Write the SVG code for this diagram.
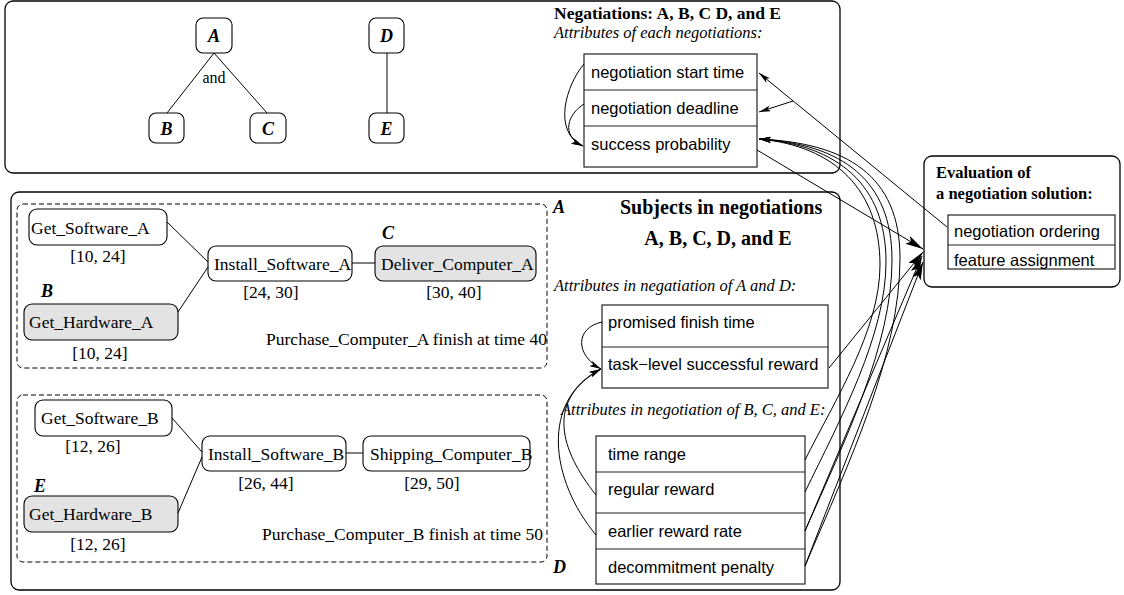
<svg xmlns="http://www.w3.org/2000/svg" width="1124" height="595" viewBox="0 0 1124 595">
  <style>
    .panel { fill: none; stroke: #000; stroke-width: 1.3; }
    .dash { fill: none; stroke: #000; stroke-width: 1; stroke-dasharray: 5 3; }
    .node { fill: #fff; stroke: #000; stroke-width: 1.1; }
    .gray { fill: #e3e3e3; stroke: #000; stroke-width: 1.1; }
    .attr { fill: #fff; stroke: #222; stroke-width: 1.2; }
    .div { stroke: #222; stroke-width: 1.2; }
    .edge { fill: none; stroke: #000; stroke-width: 1; }
    .serif { font-family: "Liberation Serif", "Times New Roman", serif; fill: #000; }
    .sans { font-family: "Liberation Sans", Arial, sans-serif; font-size: 16.5px; fill: #000; }
    .task { font-size: 17.5px; }
    .bi { font-weight: bold; font-style: italic; font-size: 18px; }
    .ital { font-style: italic; font-size: 16.5px; }
    .title { font-weight: bold; }
  </style>
  <defs>
    <marker id="arrS" viewBox="0 0 12 6" refX="12" refY="3" markerWidth="12" markerHeight="6" markerUnits="userSpaceOnUse" orient="auto">
      <path d="M0,0 L12,3 L0,6 L3,3 z" fill="#000"/>
    </marker>
    <marker id="arrL" viewBox="0 0 18 9" refX="18" refY="4.5" markerWidth="18" markerHeight="9" markerUnits="userSpaceOnUse" orient="auto">
      <path d="M0,0 L18,4.5 L0,9 L4,4.5 z" fill="#000"/>
    </marker>
  </defs>

  <!-- panels -->
  <rect class="panel" x="5" y="1" width="835" height="172" rx="8"/>
  <rect class="panel" x="11" y="192" width="829" height="398" rx="8"/>
  <rect class="dash" x="17" y="204" width="530" height="164" rx="6"/>
  <rect class="dash" x="17" y="395" width="530" height="167" rx="6"/>

  <!-- negotiation tree -->
  <g id="neg-A"><rect class="node" x="196" y="18" width="36" height="35" rx="7"/><text class="serif bi" x="214" y="42" text-anchor="middle" font-size="17">A</text></g>
  <g id="neg-B"><rect class="node" x="149" y="113" width="35" height="30" rx="7"/><text class="serif bi" x="166.5" y="135" text-anchor="middle">B</text></g>
  <g id="neg-C"><rect class="node" x="250" y="113" width="36" height="30" rx="7"/><text class="serif bi" x="268" y="135" text-anchor="middle">C</text></g>
  <g id="neg-D"><rect class="node" x="369" y="18" width="35" height="35" rx="7"/><text class="serif bi" x="386.5" y="42" text-anchor="middle">D</text></g>
  <g id="neg-E"><rect class="node" x="369" y="113" width="35" height="30" rx="7"/><text class="serif bi" x="386.5" y="135" text-anchor="middle">E</text></g>
  <text class="serif" x="214" y="83" text-anchor="middle" font-size="16">and</text>

  <text class="serif title" x="554" y="19" font-size="17.5">Negatiations: A, B, C D, and E</text>
  <text class="serif ital" x="554" y="38">Attributes of each negotiations:</text>

  <g id="attr-each">
    <rect class="attr" x="584" y="54" width="173" height="113"/>
    <line class="div" x1="584" y1="90" x2="757" y2="90"/>
    <line class="div" x1="584" y1="126" x2="757" y2="126"/>
    <text class="sans" x="591" y="78">negotiation start time</text>
    <text class="sans" x="591" y="114">negotiation deadline</text>
    <text class="sans" x="591" y="150">success probability</text>
  </g>

  <!-- evaluation -->
  <g id="evaluation">
    <rect class="panel" x="924" y="156" width="196" height="131" rx="8"/>
    <text class="serif title" x="936" y="178" font-size="16.5">Evaluation of</text>
    <text class="serif title" x="936" y="199" font-size="16.5">a negotiation solution:</text>
    <rect class="attr" x="948" y="215" width="167" height="54"/>
    <line class="div" x1="948" y1="245" x2="1115" y2="245"/>
    <text class="sans" x="954" y="237">negotiation ordering</text>
    <text class="sans" x="954" y="266">feature assignment</text>
  </g>

  <!-- Purchase_Computer_A -->
  <g id="task-get-software-a"><rect class="node" x="29" y="209" width="138" height="36" rx="8"/><text class="serif task" x="31" y="234">Get_Software_A</text><text class="serif task" x="98" y="262" text-anchor="middle">[10, 24]</text></g>
  <g id="task-install-software-a"><rect class="node" x="208" y="246" width="144" height="35" rx="8"/><text class="serif task" x="214" y="270">Install_Software_A</text><text class="serif task" x="271" y="298" text-anchor="middle">[24, 30]</text></g>
  <g id="task-deliver-computer-a"><rect class="gray" x="375" y="246" width="161" height="35" rx="8"/><text class="serif task" x="381" y="270">Deliver_Computer_A</text><text class="serif task" x="454" y="298" text-anchor="middle">[30, 40]</text><text class="serif bi" x="382" y="239">C</text></g>
  <g id="task-get-hardware-a"><rect class="gray" x="24" y="304" width="154" height="36" rx="8"/><text class="serif task" x="29" y="328">Get_Hardware_A</text><text class="serif task" x="100" y="359" text-anchor="middle">[10, 24]</text><text class="serif bi" x="41" y="297">B</text></g>
  <text class="serif task" x="547" y="345" text-anchor="end">Purchase_Computer_A finish at time 40</text>
  <text class="serif bi" x="553" y="213">A</text>

  <!-- Purchase_Computer_B -->
  <g id="task-get-software-b"><rect class="node" x="35" y="400" width="137" height="36" rx="8"/><text class="serif task" x="41" y="424">Get_Software_B</text><text class="serif task" x="93" y="452" text-anchor="middle">[12, 26]</text></g>
  <g id="task-install-software-b"><rect class="node" x="202" y="436" width="144" height="35" rx="8"/><text class="serif task" x="208" y="460">Install_Software_B</text><text class="serif task" x="266" y="489" text-anchor="middle">[26, 44]</text></g>
  <g id="task-shipping-computer-b"><rect class="node" x="363" y="436" width="167" height="35" rx="8"/><text class="serif task" x="370" y="460">Shipping_Computer_B</text><text class="serif task" x="432" y="489" text-anchor="middle">[29, 50]</text></g>
  <g id="task-get-hardware-b"><rect class="gray" x="24" y="496" width="154" height="36" rx="8"/><text class="serif task" x="29" y="520">Get_Hardware_B</text><text class="serif task" x="98" y="550" text-anchor="middle">[12, 26]</text><text class="serif bi" x="34" y="492">E</text></g>
  <text class="serif task" x="543" y="540" text-anchor="end">Purchase_Computer_B finish at time 50</text>
  <text class="serif bi" x="553" y="573">D</text>

  <!-- subjects -->
  <text class="serif title" x="620" y="214" font-size="20">Subjects in negotiations</text>
  <text class="serif title" x="718" y="245" font-size="20" text-anchor="middle">A, B, C, D, and E</text>
  <text class="serif ital" x="554" y="291">Attributes in negatiation of A and D:</text>
  <g id="attr-ad">
    <rect class="attr" x="602" y="305" width="226" height="83"/>
    <line class="div" x1="602" y1="347" x2="828" y2="347"/>
    <text class="sans" x="608" y="328">promised finish time</text>
    <text class="sans" x="608" y="370">task−level successful reward</text>
  </g>
  <text class="serif ital" x="561" y="415">Attributes in negotiation of B, C, and E:</text>
  <g id="attr-bce">
    <rect class="attr" x="596" y="436" width="209" height="148"/>
    <line class="div" x1="596" y1="472" x2="805" y2="472"/>
    <line class="div" x1="596" y1="513" x2="805" y2="513"/>
    <line class="div" x1="596" y1="549" x2="805" y2="549"/>
    <text class="sans" x="608" y="460">time range</text>
    <text class="sans" x="608" y="495">regular reward</text>
    <text class="sans" x="608" y="537">earlier reward rate</text>
    <text class="sans" x="608" y="573">decommitment penalty</text>
  </g>

  <!-- connectors -->
  <g id="connectors">
    <line class="edge" x1="214" y1="53" x2="167" y2="113"/>
    <line class="edge" x1="214" y1="53" x2="267" y2="113"/>
    <line class="edge" x1="387" y1="53" x2="387" y2="113"/>

    <line class="edge" x1="167" y1="222" x2="208" y2="262"/>
    <line class="edge" x1="178" y1="312" x2="208" y2="267"/>
    <line class="edge" x1="352" y1="263" x2="375" y2="263" stroke-width="1.6" stroke="#444"/>
    <line class="edge" x1="172" y1="418" x2="202" y2="452"/>
    <line class="edge" x1="178" y1="513" x2="202" y2="457"/>
    <line class="edge" x1="346" y1="453" x2="363" y2="453" stroke-width="1.6" stroke="#444"/>

    <path class="edge" d="M584,64 C566,85 552,132 583,146" marker-end="url(#arrS)"/>
    <path class="edge" d="M584,104 C568,114 560,135 583,146" marker-end="url(#arrS)"/>

    <path class="edge" d="M602,322 C575,328 575,355 601,369" marker-end="url(#arrS)"/>
    <path class="edge" d="M596,495 C560,450 545,400 601,369" marker-end="url(#arrS)"/>
    <path class="edge" d="M596,535 C550,480 540,400 601,369" marker-end="url(#arrS)"/>

    <line class="edge" x1="947" y1="227" x2="759" y2="73" marker-end="url(#arrS)"/>
    <line class="edge" x1="793" y1="101" x2="759" y2="112" marker-end="url(#arrS)"/>
    <line class="edge" x1="757" y1="150" x2="923" y2="249" marker-end="url(#arrL)"/>
    <line class="edge" x1="829" y1="368" x2="923" y2="252" marker-end="url(#arrL)"/>
    <line class="edge" x1="805" y1="531" x2="922" y2="256" marker-end="url(#arrL)"/>
    <line class="edge" x1="805" y1="566" x2="923" y2="262" marker-end="url(#arrL)"/>

    <path class="edge" d="M805,460 C835,400 880,330 880,265 C880,190 835,146 759,139" marker-end="url(#arrS)"/>
    <path class="edge" d="M805,492 C840,420 886,335 886,262 C886,185 838,145 759,139" marker-end="url(#arrS)"/>
    <path class="edge" d="M805,531 C845,440 892,345 892,260 C892,180 842,144 759,139" marker-end="url(#arrS)"/>
    <path class="edge" d="M805,566 C850,460 900,355 900,258 C900,175 846,143 759,139" marker-end="url(#arrS)"/>
  </g>
</svg>
